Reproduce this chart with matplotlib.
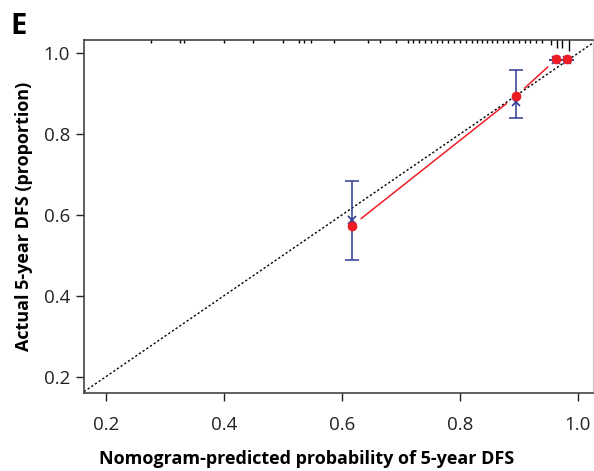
import numpy as np
import matplotlib
matplotlib.use("Agg")
import matplotlib.pyplot as plt

plt.rcParams['font.family'] = ['Open Sans', 'DejaVu Sans']

# calibration groups: mean predicted vs observed 5-year DFS
pred = [0.617, 0.895, 0.964, 0.981]
observed = [0.573, 0.894, 0.986, 0.986]
corrected = [0.588, 0.880, 0.983, 0.983]
ci_low = [0.490, 0.841, 0.983, 0.983]
ci_high = [0.685, 0.960, 0.983, 0.983]

# distribution of predicted probabilities (rug along the top)
rug_x = [0.277, 0.326, 0.333, 0.401, 0.450, 0.501, 0.528, 0.536, 0.548, 0.587,
         0.645, 0.665, 0.692, 0.712, 0.721, 0.731, 0.741, 0.751, 0.762, 0.770,
         0.780, 0.790, 0.801, 0.810, 0.821, 0.829, 0.838, 0.846, 0.855, 0.863,
         0.873, 0.882, 0.890, 0.900, 0.910, 0.919, 0.929, 0.939, 0.955, 0.965,
         0.974, 0.986]
rug_n = [1] * 38 + [2, 3, 3, 4]

ticks = [0.2, 0.4, 0.6, 0.8, 1.0]

RED = "#ee1c25"
BLUE = "#2e3a94"

fig = plt.figure(figsize=(5.94, 4.71), dpi=100)
ax = fig.add_axes([0.1414, 0.165, 0.857, 0.750])
ax.set_xlim(0.163, 1.026)
ax.set_ylim(0.159, 1.033)

# ideal line
ax.axline((0, 0), (1, 1), color="black", lw=1.0, ls=(0, (1.6, 1.6)), zorder=1)

# rug of predictions hanging from the top border
h_px = 2.7
ax_h = ax.get_position().height * fig.get_figheight() * fig.dpi
ax.vlines(rug_x, [1 - h_px * n / ax_h for n in rug_n], 1,
          transform=ax.get_xaxis_transform(), color="black", lw=1.0,
          clip_on=False, zorder=3)

# observed line, type "b": segments broken around the points
gap = 12.0
pts = ax.transData.transform(np.column_stack([pred, observed]))
for p0, p1 in zip(pts[:-1], pts[1:]):
    d = p1 - p0
    L = np.hypot(*d)
    if L <= 2 * gap + 1:
        continue
    u = d / L
    seg = ax.transData.inverted().transform([p0 + u * gap, p1 - u * gap])
    ax.plot(seg[:, 0], seg[:, 1], color=RED, lw=1.1, zorder=2)

# bias-corrected estimates with intervals
yerr = [np.array(corrected) - np.array(ci_low), np.array(ci_high) - np.array(corrected)]
ax.errorbar(pred, corrected, yerr=yerr, fmt="none", ecolor=BLUE, elinewidth=1.1,
            capsize=5, capthick=1.1, zorder=3)
ax.plot(pred, corrected, ls="none", marker="x", ms=6, mew=1.2, color=BLUE, zorder=4)
ax.plot(pred, observed, ls="none", marker="o", ms=6, color=RED, zorder=5)

ax.set_xticks(ticks)
ax.set_yticks(ticks)
ax.set_xticklabels([f"{t:.1f}" for t in ticks])
ax.set_yticklabels([f"{t:.1f}" for t in ticks])
ax.tick_params(axis="both", direction="out", length=6, width=1.0, color="#222222",
               labelsize=13.5, labelcolor="#222222")
ax.tick_params(axis="x", pad=10)
ax.tick_params(axis="y", pad=4)

for side in ["left", "bottom", "top"]:
    ax.spines[side].set_color("#444444")
    ax.spines[side].set_linewidth(1.2)
ax.spines["right"].set_color("#cccccc")
ax.spines["right"].set_linewidth(1.0)

ax.set_xlabel("Nomogram-predicted probability of 5-year DFS", fontsize=13,
              fontweight="bold")
ax.xaxis.set_label_coords(0.437, -0.160)
ax.set_ylabel("Actual 5-year DFS (proportion)", fontsize=13, fontweight="bold",
              labelpad=8)

fig.text(0.017, 0.928, "E", fontsize=21, fontweight="bold", ha="left", va="baseline")

fig.savefig("out.png", dpi=100)
